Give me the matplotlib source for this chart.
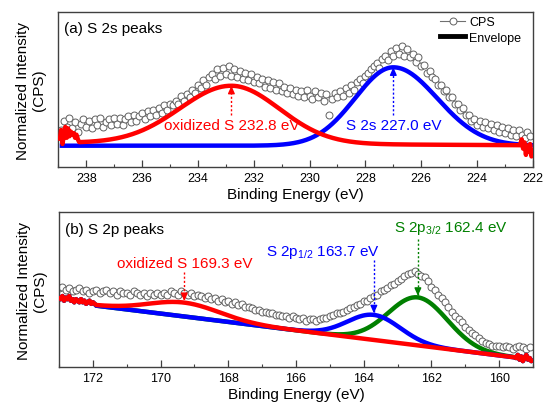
import numpy as np
import matplotlib.pyplot as plt
from matplotlib.lines import Line2D

plt.rcParams['font.family'] = ['Liberation Sans', 'DejaVu Sans']
plt.rcParams['mathtext.default'] = 'regular'

# ---- S 2s region -------------------------------------------------------
s2s_start, s2s_step = 238.9, -0.1
s2s_cps = [
    24, 30, 26, 32, 25, 29, 23, 28, 31, 26,
    30, 25, 31, 27, 32, 26, 29, 31, 27, 32,
    28, 32, 27, 31, 33, 29, 34, 30, 33, 35,
    31, 36, 33, 37, 34, 38, 35, 40, 37, 41,
    40, 43, 41, 46, 43, 47, 45, 50, 48, 53,
    51, 56, 53, 58, 60, 57, 63, 59, 64, 60,
    65, 59, 63, 58, 62, 57, 61, 56, 60, 55,
    58, 54, 57, 52, 56, 51, 55, 50, 54, 49,
    52, 48, 51, 47, 50, 46, 49, 45, 50, 46,
    44, 49, 45, 48, 43, 47, 34, 44, 48, 45,
    49, 46, 51, 48, 53, 50, 55, 57, 54, 59,
    61, 63, 65, 67, 64, 70, 72, 69, 75, 72,
    77, 73, 78, 72, 76, 71, 73, 68, 71, 65,
    66, 61, 62, 58, 57, 53, 53, 49, 50, 45,
    45, 41, 41, 37, 38, 34, 34, 30, 31, 27,
    30, 26, 29, 25, 28, 24, 27, 23, 26, 22,
    25, 21, 24, 20, 24, 21, 19, 23, 20,
]

# fitted components: oxidized S, S 2s
s2s_centers = [232.8, 227.0]
s2s_heights = [37.3, 50.5]
s2s_sigma_hi = [1.84, 1.37]   # high binding-energy side
s2s_sigma_lo = [1.72, 1.57]   # low binding-energy side
s2s_bg_left = [15.8, 13.9]
s2s_bg_right = [14.2, 13.9]
s2s_colors = ['#ff0000', '#0000ff']
s2s_labels = ['oxidized S 232.8 eV', 'S 2s 227.0 eV']

# raw envelope at the ends of the fit window
s2s_edge_l = [17, 24, 15, 21, 26, 19, 25, 20, 23, 21, 22, 19, 21, 18]
s2s_edge_r = [15, 18, 12, 16, 8, 14, 10, 15, 7, 12]

# ---- S 2p region -------------------------------------------------------
s2p_start, s2p_step = 173.0, -0.1
s2p_cps = [
    51, 52, 50, 51, 49, 50, 51, 49, 50, 48,
    49, 50, 48, 49, 50, 48, 49, 47, 49, 48,
    48, 47, 49, 48, 47, 48, 46, 48, 47, 48,
    47, 48, 47, 49, 48, 47, 49, 48, 47, 48,
    46, 47, 46, 45, 46, 44, 45, 43, 44, 42,
    43, 41, 42, 40, 41, 39, 39, 38, 37, 37,
    36, 36, 35, 35, 34, 34, 33, 33, 32, 33,
    32, 31, 32, 30, 31, 31, 30, 31, 32, 32,
    33, 34, 35, 35, 36, 37, 38, 39, 40, 41,
    43, 43, 45, 46, 47, 49, 50, 51, 53, 54,
    56, 57, 59, 60, 61, 62, 60, 59, 58, 56,
    52, 50, 47, 45, 42, 39, 36, 33, 31, 29,
    26, 24, 22, 21, 19, 17, 16, 15, 14, 14,
    14, 13, 14, 13, 12, 13, 14, 13, 12, 13,
]

# fitted components: S 2p3/2, S 2p1/2, oxidized S
s2p_centers = [162.4, 163.7, 169.3]
s2p_heights = [31.0, 16.2, 9.0]
s2p_sigmas = [0.87, 0.78, 1.05]
s2p_colors = ['#008000', '#0000ff', '#ff0000']
s2p_bg = (171.9, 39.8, 159.5, 6.3)

s2p_edge_l = [46, 44, 46, 43, 45, 44, 46, 43, 44, 42, 44,
              43, 42, 44, 42, 43, 41, 42, 43, 41, 42, 41]
s2p_edge_r = [6, 8, 5, 7, 4, 6, 8, 5, 6, 4, 5]


def split_gauss(e, c, h, s_hi, s_lo):
    s = np.where(e >= c, s_hi, s_lo)
    return h * np.exp(-(e - c) ** 2 / (2 * s ** 2))


def style_axes(ax, xlim, title):
    ax.set_xlim(*xlim)
    ax.set_ylim(0, 100)
    ax.set_yticks([])
    ax.set_xticks(np.arange(np.ceil(xlim[1] / 2) * 2, xlim[0] + 0.01, 2))
    ax.set_xticks(np.arange(np.ceil(xlim[1]), xlim[0] + 0.01, 1), minor=True)
    ax.tick_params(axis='x', which='major', direction='in', length=5,
                   width=0.9, labelsize=9, pad=3.5, color='#404040')
    ax.tick_params(axis='x', which='minor', direction='in', length=2.5,
                   width=0.8, color='#404040')
    for sp in ax.spines.values():
        sp.set_color('#404040')
        sp.set_linewidth(1.0)
    ax.set_xlabel('Binding Energy (eV)', fontsize=11)
    ax.xaxis.set_label_coords(0.5, -0.125)
    ax.set_ylabel('Normalized Intensity\n(CPS)', fontsize=11)
    ax.yaxis.set_label_coords(-0.026, 0.5)
    ax.text(0.012, 0.895, title, transform=ax.transAxes, va='center',
            fontsize=11)


def marker_arrow(ax, x, y_tail, y_tip, color):
    ax.plot([x, x], [y_tail, y_tip], color=color, lw=1.0,
            ls=(0, (1.5, 1.5)), zorder=5)
    d = 3.0 if y_tip < y_tail else -3.0
    ax.annotate('', xy=(x, y_tip), xytext=(x, y_tip + d),
                arrowprops=dict(arrowstyle='-|>,head_length=0.45,head_width=0.2',
                                color=color, lw=1.0, shrinkA=0, shrinkB=0),
                zorder=5)


cps_kw = dict(ls='none', marker='o', ms=5, mfc='white',
              mec='#606060', mew=0.7, zorder=2)

fig = plt.figure(figsize=(5.43, 4.14), dpi=100)
ax1 = fig.add_axes([0.1074, 0.5935, 0.874, 0.375])
ax2 = fig.add_axes([0.1087, 0.1104, 0.8729, 0.374])

# ---- panel (a) ----------------------------------------------------------
e_cps = s2s_start + s2s_step * np.arange(len(s2s_cps))
ax1.plot(e_cps, s2s_cps, **cps_kw)

e_l = 238.95 - 0.05 * np.arange(len(s2s_edge_l))
e_r = 222.45 - 0.05 * np.arange(len(s2s_edge_r))
e_main = np.linspace(238.25, 222.45, 500)
e_full = np.linspace(238.95, 222.0, 600)

# blue (S 2s) first, red (oxidized) over it
for i in (1, 0):
    if i == 0:
        e = e_main
    else:
        e = e_full
    bg = s2s_bg_left[i] + (s2s_bg_right[i] - s2s_bg_left[i]) * (239 - e) / 17
    y = bg + split_gauss(e, s2s_centers[i], s2s_heights[i],
                         s2s_sigma_hi[i], s2s_sigma_lo[i])
    if i == 0:
        e = np.concatenate([e_l, e, e_r])
        y = np.concatenate([s2s_edge_l, y, s2s_edge_r])
    ax1.plot(e, y, color=s2s_colors[i], lw=3.2, solid_capstyle='butt',
             zorder=3)
    peak = s2s_bg_left[i] + (s2s_bg_right[i] - s2s_bg_left[i]) * \
        (239 - s2s_centers[i]) / 17 + s2s_heights[i]
    marker_arrow(ax1, s2s_centers[i], 33.5, peak, s2s_colors[i])
    ax1.text(s2s_centers[i], 27, s2s_labels[i], color=s2s_colors[i],
             ha='center', va='center', fontsize=11, zorder=6)

style_axes(ax1, (239, 222), '(a) S 2s peaks')

handles = [Line2D([], [], color='#707070', lw=0.8, marker='o', ms=5,
                  mfc='white', mec='#606060', mew=0.7),
           Line2D([], [], color='black', lw=3.5)]
ax1.legend(handles, ['CPS', 'Envelope'], loc='upper right',
           bbox_to_anchor=(0.975, 0.975), frameon=False, fontsize=9,
           borderpad=0, borderaxespad=0, handlelength=2.0,
           handletextpad=0.3, labelspacing=0.3)

# ---- panel (b) ----------------------------------------------------------
e_cps = s2p_start + s2p_step * np.arange(len(s2p_cps))
ax2.plot(e_cps, s2p_cps, **cps_kw)

e0, b0, e1, b1 = s2p_bg
e_l = 173.0 - 0.05 * np.arange(len(s2p_edge_l))
e_r = 159.5 - 0.05 * np.arange(len(s2p_edge_r))
e_main = np.linspace(171.9, 159.55, 500)
bg = b1 + (b0 - b1) * (e_main - e1) / (e0 - e1)
e_env = np.concatenate([e_l, e_main, e_r])

tails = [(2.0, 83), (1.8, 69), (1.6, 61.5)]
texts = [('S 2p$_{3/2}$ 162.4 eV', 161.42, 90),
         ('S 2p$_{1/2}$ 163.7 eV', 165.2, 75),
         ('oxidized S 169.3 eV', 169.3, 67.4)]
for i in range(3):
    y = bg + split_gauss(e_main, s2p_centers[i], s2p_heights[i],
                         s2p_sigmas[i], s2p_sigmas[i])
    y = np.concatenate([s2p_edge_l, y, s2p_edge_r])
    ax2.plot(e_env, y, color=s2p_colors[i], lw=3.2, solid_capstyle='butt',
             zorder=3)
    c = s2p_centers[i]
    peak = b1 + (b0 - b1) * (c - e1) / (e0 - e1) + s2p_heights[i]
    marker_arrow(ax2, c, tails[i][1], peak + 1.0, s2p_colors[i])
    label, tx, ty = texts[i]
    ax2.text(tx, ty, label, color=s2p_colors[i], ha='center', va='center',
             fontsize=11, zorder=6)

style_axes(ax2, (173, 159), '(b) S 2p peaks')

fig.savefig('out.png', dpi=100)
